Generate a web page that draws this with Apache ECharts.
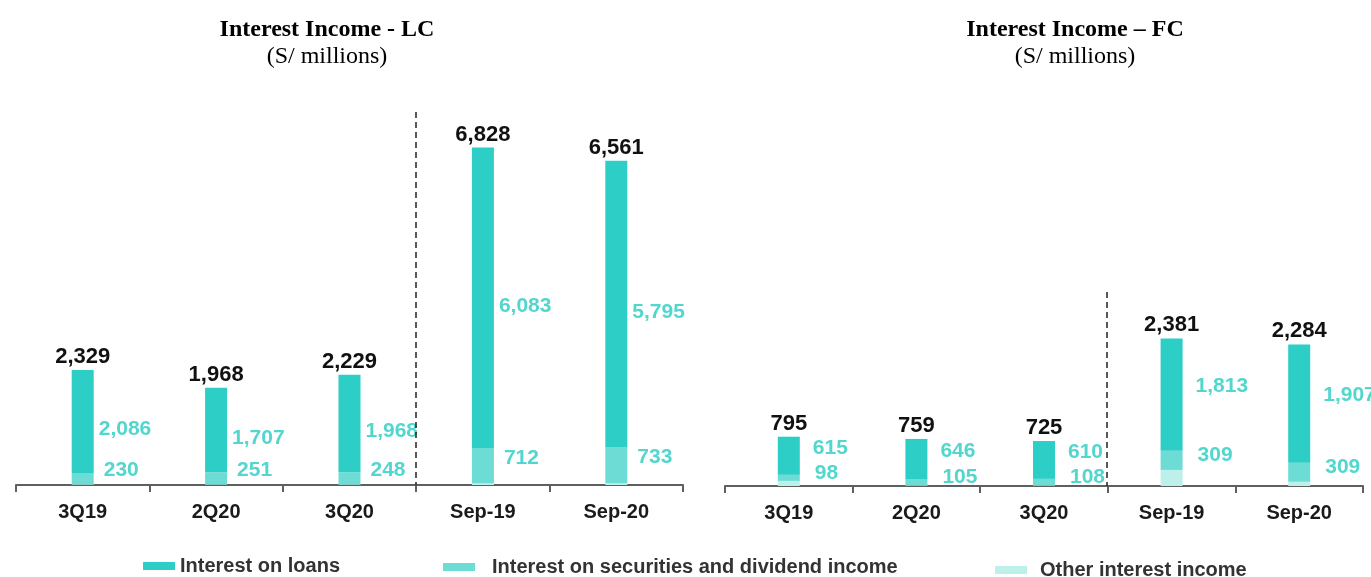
<!DOCTYPE html>
<html>
<head>
<meta charset="utf-8">
<script src="https://cdn.jsdelivr.net/npm/echarts@6/dist/echarts.min.js"></script>
<style>
html,body{margin:0;padding:0;background:#fff;}
#chart{width:1371px;height:577px;}
</style>
</head>
<body>
<div id="chart"></div>
<script>
// ---- data ----
var categories = ['3Q19', '2Q20', '3Q20', 'Sep-19', 'Sep-20'];
// Local currency (S/ millions)
var lcLoans = [2086, 1707, 1968, 6083, 5795];
var lcSecurities = [230, 251, 248, 712, 733];
var lcOther = [13, 10, 13, 33, 33];
var lcTotal = [2329, 1968, 2229, 6828, 6561];
// Foreign currency (S/ millions)
var fcLoans = [615, 646, 610, 1813, 1907];
var fcSecurities = [98, 105, 108, 309, 309];
var fcOther = [82, 8, 7, 259, 68];
var fcTotal = [795, 759, 725, 2381, 2284];

var seriesNames = ['Interest on loans', 'Interest on securities and dividend income', 'Other interest income'];

// ---- styles ----
var C_LOANS = '#2DCEC5';
var C_SEC = '#6DDCD5';
var C_OTHER = '#BDEFEB';
var C_VAL = '#52D6CE';
var SANS = 'Liberation Sans, Arial, sans-serif';
var SERIF = 'Liberation Serif, Times New Roman, serif';

function fmt(v) { return v.toLocaleString('en-US'); }

var chart = echarts.init(document.getElementById('chart'));

function xAxisFor(gi) {
  return {
    type: 'category', gridIndex: gi, data: categories,
    axisLine: { lineStyle: { color: '#5f5f5f', width: 2 } },
    axisTick: { show: true, length: 7, lineStyle: { color: '#5f5f5f', width: 2 } },
    axisLabel: { color: '#1a1a1a', fontFamily: SANS, fontWeight: 'bold', fontSize: 20, margin: 17 },
    splitLine: { show: false }
  };
}
function yAxisFor(gi, max) {
  return { type: 'value', gridIndex: gi, min: 0, max: max, show: false, splitLine: { show: false } };
}

function seriesFor(gi, loans, sec, other, total, loanDist, loanOff, secDist, secOff) {
  var stack = 's' + gi;
  var valLabel = function (dist, off) {
    return {
      show: true, position: 'right', distance: dist, offset: off,
      color: C_VAL, fontFamily: SANS, fontWeight: 'bold', fontSize: 21,
      formatter: function (p) { return fmt(p.value); }
    };
  };
  return [
    { name: seriesNames[2], type: 'bar', xAxisIndex: gi, yAxisIndex: gi, stack: stack, barWidth: 22, barGap: '-100%',
      data: other, itemStyle: { color: C_OTHER } },
    { name: seriesNames[1], type: 'bar', xAxisIndex: gi, yAxisIndex: gi, stack: stack, barWidth: 22, barGap: '-100%',
      data: sec, itemStyle: { color: C_SEC }, label: valLabel(secDist, secOff) },
    { name: seriesNames[0], type: 'bar', xAxisIndex: gi, yAxisIndex: gi, stack: stack, barWidth: 22, barGap: '-100%',
      data: loans, itemStyle: { color: C_LOANS }, label: valLabel(loanDist, loanOff) },
    { name: 'Total', type: 'bar', xAxisIndex: gi, yAxisIndex: gi, barWidth: 22, barGap: '-100%', z: 1,
      data: total, itemStyle: { color: 'rgba(0,0,0,0)' }, silent: true,
      label: { show: true, position: 'top', distance: 2, color: '#111', fontFamily: SANS, fontWeight: 'bold', fontSize: 22,
        formatter: function (p) { return fmt(p.value); } } }
  ];
}

function legendFor(name, left, top, pad) {
  return {
    data: [name], left: left, top: top, icon: 'rect', itemWidth: 32, itemHeight: 8,
    selectedMode: false,
    textStyle: { color: '#333', fontFamily: SANS, fontWeight: 'bold', fontSize: 20, padding: [0, 0, 0, pad] }
  };
}

var option = {
  animation: false,
  backgroundColor: '#fff',
  title: [
    { text: 'Interest Income - LC', subtext: '(S/ millions)', left: 322, top: 13, textAlign: 'center', itemGap: 3,
      textStyle: { fontFamily: SERIF, fontWeight: 'bold', fontSize: 24, color: '#000' },
      subtextStyle: { fontFamily: SERIF, fontSize: 24, color: '#000' } },
    { text: 'Interest Income \u2013 FC', subtext: '(S/ millions)', left: 1070, top: 13, textAlign: 'center', itemGap: 3,
      textStyle: { fontFamily: SERIF, fontWeight: 'bold', fontSize: 24, color: '#000' },
      subtextStyle: { fontFamily: SERIF, fontSize: 24, color: '#000' } }
  ],
  legend: [
    legendFor(seriesNames[0], 138, 551, 0),
    legendFor(seriesNames[1], 438, 552, 12),
    legendFor(seriesNames[2], 990, 555, 8)
  ],
  grid: [
    { left: 16, width: 667, top: 139, height: 346 },
    { left: 725, width: 638, top: 331, height: 155 }
  ],
  xAxis: [xAxisFor(0), xAxisFor(1)],
  yAxis: [yAxisFor(0, 7000), yAxisFor(1, 2500)],
  series: [].concat(
    seriesFor(0, lcLoans, lcSecurities, lcOther, lcTotal, 5, [0, 8], 10, [0, -8]),
    seriesFor(1, fcLoans, fcSecurities, fcOther, fcTotal, 13, [0, -8], 15, [0, -5])
  ),
  graphic: [
    { type: 'line', shape: { x1: 416, y1: 112, x2: 416, y2: 485 }, z: 10,
      style: { stroke: '#222', lineWidth: 1.5, lineDash: [6, 4] } },
    { type: 'line', shape: { x1: 1107, y1: 292, x2: 1107, y2: 486 }, z: 10,
      style: { stroke: '#222', lineWidth: 1.5, lineDash: [6, 4] } }
  ]
};
chart.setOption(option);
</script>
</body>
</html>
